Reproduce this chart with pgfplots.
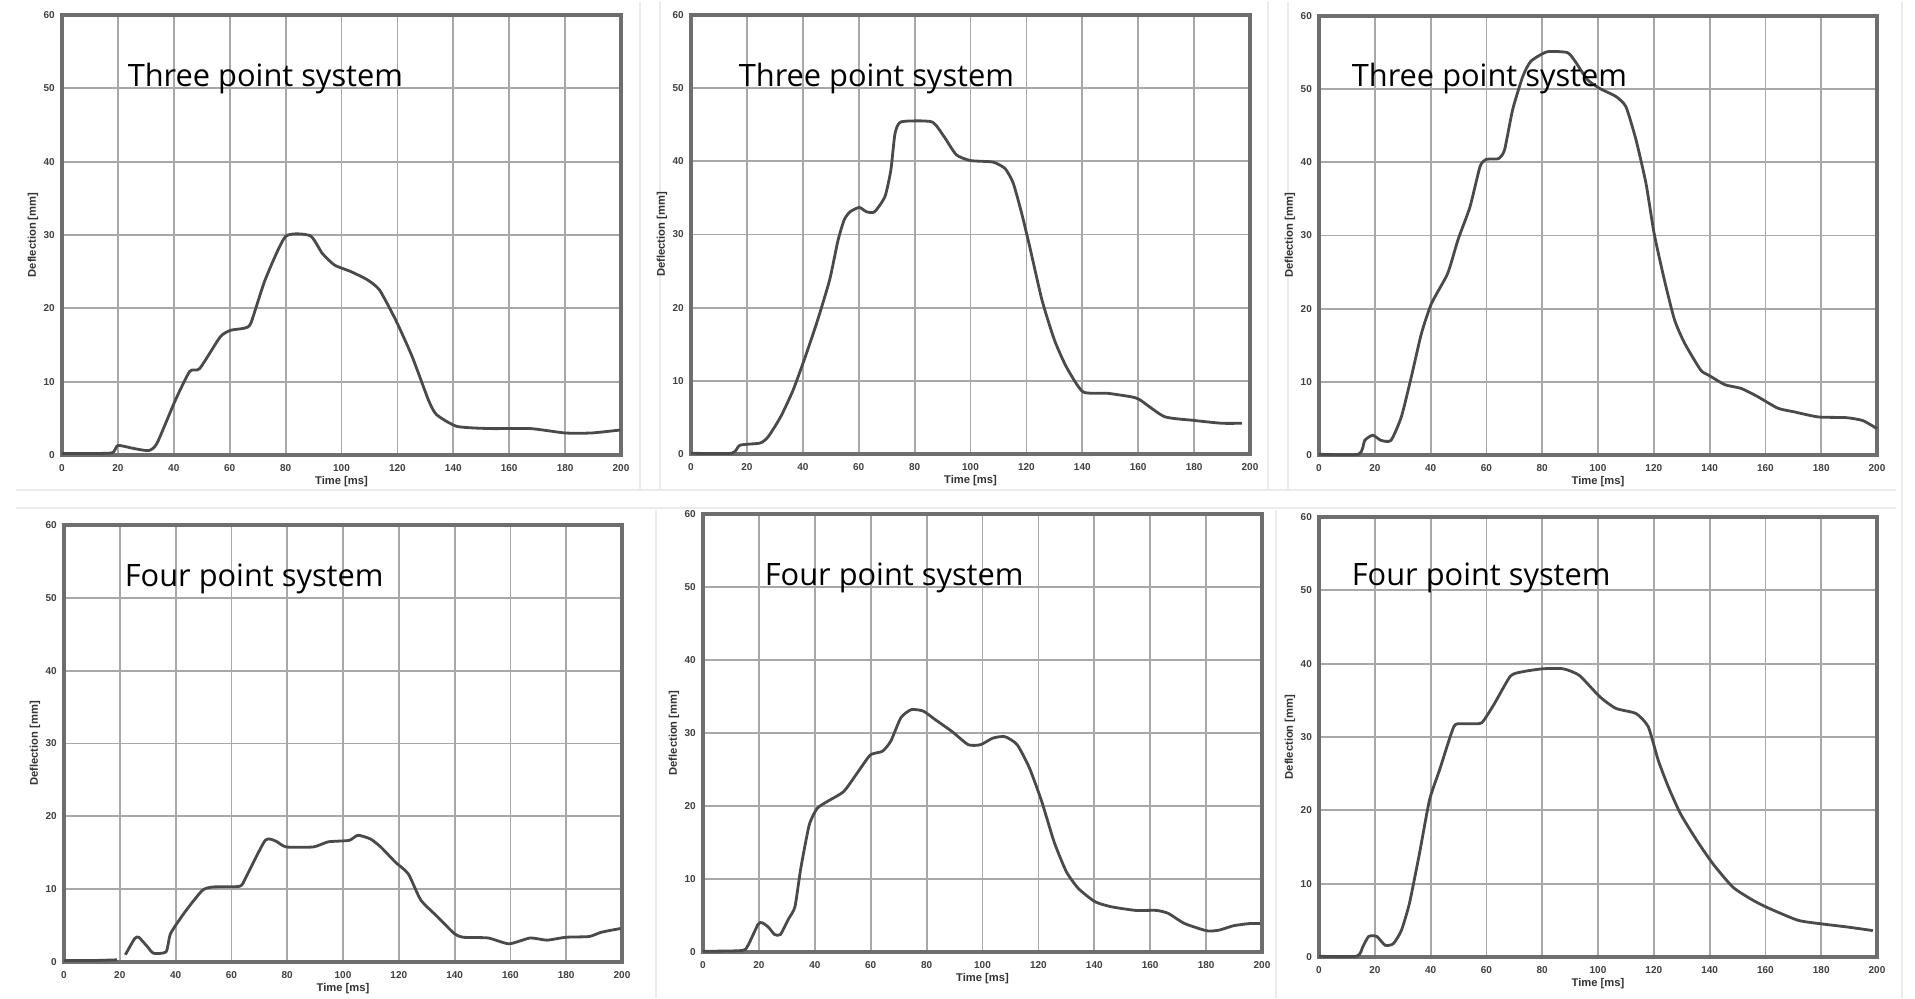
\documentclass[border=0pt]{standalone}
\usepackage{pgfplots}
\pgfplotsset{compat=1.18}
\usepackage{fontspec}
\setmainfont{Liberation Sans}
\newfontfamily\notefont{Open Sans}
\definecolor{framec}{HTML}{6E6E6E}
\definecolor{gridc}{HTML}{A8A8A8}
\definecolor{curvec}{HTML}{4A4A4A}
\pgfplotsset{
  defl/.style={
    scale only axis,
    xmin=0, xmax=200, ymin=0, ymax=60,
    xtick={0,20,...,200}, ytick={0,10,...,60},
    grid=major,
    major grid style={color=gridc, line width=0.45pt},
    axis line style={line width=0.95pt, color=framec},
    major tick length=0pt,
    /pgf/number format/assume math mode=true,
    ticklabel style={font=\fontsize{2.5}{3}\selectfont\bfseries, text=black!75},
    xticklabel style={anchor=north, inner sep=0pt, yshift=-2.1pt},
    yticklabel style={anchor=east, inner sep=0pt, xshift=-1.6pt},
    xlabel={Time [ms]}, ylabel={Deflection [mm]},
    label style={font=\fontsize{2.8}{3.2}\selectfont\bfseries, text=black!80},
    xlabel style={at={(axis description cs:0.5,-0.061)}, anchor=center},
    ylabel style={at={(axis description cs:-0.052,0.5)}, anchor=center},
    clip=false,
  },
  curve/.style={color=curvec, line width=0.7pt, smooth, tension=0.35, no marks},
}
\begin{document}
\begin{tikzpicture}
\useasboundingbox (0,0) rectangle (478.75pt,249.5pt);
\fill[white] (0,0) rectangle (478.75pt,249.5pt);
% faint panel edges
\draw[black!8, line width=0.3pt] (4pt,127pt) -- (474pt,127pt);
\draw[black!8, line width=0.3pt] (4pt,122.5pt) -- (474pt,122.5pt);
\draw[black!8, line width=0.3pt] (160pt,127pt) -- (160pt,249pt);
\draw[black!8, line width=0.3pt] (165pt,127pt) -- (165pt,249pt);
\draw[black!8, line width=0.3pt] (317pt,127pt) -- (317pt,249pt);
\draw[black!8, line width=0.3pt] (322pt,127pt) -- (322pt,249pt);
\draw[black!8, line width=0.3pt] (164pt,0pt) -- (164pt,122pt);
\draw[black!8, line width=0.3pt] (319pt,0pt) -- (319pt,122pt);
\draw[black!8, line width=0.3pt] (475.5pt,0pt) -- (475.5pt,249pt);

% ---------- Plot 1 ----------
\begin{axis}[defl, at={(15.5pt,245.75pt)}, anchor=north west, width=139.75pt, height=110pt]
\addplot[curve] coordinates {
(0,0.2) (10,0.2) (18,0.3) (20,1.3) (25.5,0.9) (31,0.6) (34,1.6) (40.6,7.5) (45.7,11.4) (49.3,11.8)
(56.6,16.1) (60.3,17.0) (65.4,17.3) (67.6,18.0) (72.7,23.9) (80,29.8) (88.8,29.9) (93.1,27.5)
(97.5,25.9) (103.4,25.0) (109.2,23.9) (113.6,22.5) (119.4,18.4) (125.3,13.4) (131.1,7.5)
(134,5.5) (141.3,3.9) (153,3.6) (167.6,3.6) (180,3.0) (189.5,3.0) (199.7,3.4)};
\end{axis}

% ---------- Plot 2 ----------
\begin{axis}[defl, at={(172.75pt,245.75pt)}, anchor=north west, width=139.75pt, height=109.75pt]
\addplot[curve] coordinates {
(0,0.1) (14.6,0.1) (17.5,1.2) (24.8,1.5) (27.7,2.4) (32.1,5.1) (36.5,8.7) (40.9,13.3) (45.3,18.3)
(49.6,23.8) (52.6,29.2) (54.8,32.0) (56.9,33.1) (60.2,33.7) (62.8,33.1) (65.7,33.1) (69.4,35.2)
(71.5,38.8) (73,43.8) (75.2,45.4) (86.1,45.4) (90.5,43.4) (94.9,40.9) (100,40.1) (108,39.9)
(112.4,39.0) (115.3,37.0) (118.3,32.9) (121.2,28.3) (125.6,21.0) (130,15.6) (134.3,11.9)
(140.2,8.5) (148.9,8.3) (157.7,7.8) (160.6,7.4) (169.4,5.1) (179.6,4.6) (189.8,4.2) (197.1,4.2)};
\end{axis}

% ---------- Plot 3 ----------
\begin{axis}[defl, at={(329.75pt,245.5pt)}, anchor=north west, width=139.5pt, height=109.75pt]
\addplot[curve] coordinates {
(0,0.1) (14.2,0.1) (16.4,2.0) (19.3,2.7) (22.2,2.0) (25.8,2.0) (29.5,5.2) (33.1,10.7) (36.7,16.6)
(40.3,20.7) (46.1,24.8) (49.8,29.4) (54.1,33.9) (57.7,39.4) (59.9,40.4) (64.3,40.5) (66.5,41.7)
(69.4,47.2) (73,51.7) (75.9,53.8) (81.7,55.1) (89,55.0) (91.8,53.8) (96.2,51.3) (100.6,50.1)
(106.4,49.0) (110,47.6) (113.6,43.1) (117.2,37.1) (120.1,30.3) (123.8,23.9) (127.4,18.5)
(131,15.3) (136.8,11.6) (139.7,10.9) (145.5,9.6) (151.3,9.1) (157.1,8.0) (164.4,6.4)
(170.2,5.9) (178.9,5.2) (189,5.1) (194.9,4.7) (200,3.6)};
\end{axis}

% ---------- Plot 4 ----------
\begin{axis}[defl, at={(16pt,118.25pt)}, anchor=north west, width=139.5pt, height=109.25pt]
\addplot[curve] coordinates {(0,0.2) (10,0.2) (19,0.3)};
\addplot[curve] coordinates {
(22,1.0) (25.3,3.2) (26.8,3.4) (29.9,2.1) (32.1,1.2) (36.6,1.4) (38.2,3.9) (43.4,6.9) (49.5,9.8)
(53.2,10.3) (63,10.4) (65.3,11.7) (72.1,16.7) (75.9,16.6) (79.6,15.8) (89.4,15.8) (94.7,16.5)
(102.2,16.7) (105.3,17.4) (109.8,16.9) (113.5,15.8) (118.8,13.7) (123.4,12.1) (127.9,8.5)
(133.9,6.2) (139.9,3.9) (143,3.4) (152,3.3) (159.5,2.5) (167.1,3.3) (173.1,3.0) (179.9,3.4)
(188.2,3.5) (192.7,4.1) (199.5,4.6)};
\end{axis}

% ---------- Plot 5 ----------
\begin{axis}[defl, at={(175.75pt,121pt)}, anchor=north west, width=139.75pt, height=109.5pt]
\addplot[curve] coordinates {
(0,0.1) (13.9,0.2) (16.1,0.9) (19.7,3.8) (21.2,4.0) (23.4,3.4) (25.6,2.4) (27.7,2.4) (30.7,4.6)
(32.9,6.2) (35,11.5) (38,17.4) (40.9,19.7) (45.3,20.8) (50.4,22.0) (55.5,24.7) (59.9,27.0)
(64.2,27.5) (67.2,28.9) (70.8,32.1) (74.5,33.2) (78.8,33.0) (83.2,31.8) (89.1,30.2) (94.9,28.4)
(99.3,28.4) (103.7,29.3) (108,29.5) (112.4,28.4) (116.8,25.2) (121.2,20.6) (125.6,15.1)
(130,11.0) (134.3,8.7) (140.2,6.9) (146,6.2) (154.8,5.7) (162.1,5.7) (166.4,5.3) (172.3,3.9)
(180.3,2.9) (184.7,3.0) (189.8,3.6) (195.6,3.9) (199.3,3.9)};
\end{axis}

% ---------- Plot 6 ----------
\begin{axis}[defl, at={(329.75pt,120.25pt)}, anchor=north west, width=139.5pt, height=110pt]
\addplot[curve] coordinates {
(0,0.1) (13.5,0.1) (15.7,1.4) (17.8,2.8) (20.7,2.8) (23.7,1.6) (26.6,1.8) (29.5,3.6) (32.4,7.3)
(36,14.1) (39.6,21.4) (43.2,25.5) (48.3,31.4) (51.2,31.8) (55.6,31.8) (58.5,32.0) (62.8,34.5)
(68.6,38.3) (73,38.9) (80.2,39.3) (87.5,39.3) (93.3,38.4) (100.6,35.5) (106.4,33.9) (113.6,33.2)
(118,31.4) (121.6,26.8) (125.2,23.2) (129.6,19.5) (135.4,15.9) (141.2,12.7) (148.4,9.5)
(155.7,7.7) (161.5,6.6) (171.7,5.0) (180.4,4.5) (189.1,4.1) (198.5,3.6)};
\end{axis}

% ---------- annotations ----------
\node[anchor=base west, inner sep=0pt, font=\notefont\fontsize{7.7}{9}\selectfont] at (31.75pt,227.75pt) {Three point system};
\node[anchor=base west, inner sep=0pt, font=\notefont\fontsize{7.7}{9}\selectfont] at (184.5pt,227.75pt) {Three point system};
\node[anchor=base west, inner sep=0pt, font=\notefont\fontsize{7.7}{9}\selectfont] at (337.75pt,227.75pt) {Three point system};
\node[anchor=base west, inner sep=0pt, font=\notefont\fontsize{7.7}{9}\selectfont] at (31pt,103pt) {Four point system};
\node[anchor=base west, inner sep=0pt, font=\notefont\fontsize{7.7}{9}\selectfont] at (191pt,103.25pt) {Four point system};
\node[anchor=base west, inner sep=0pt, font=\notefont\fontsize{7.7}{9}\selectfont] at (337.75pt,103.25pt) {Four point system};
\end{tikzpicture}
\end{document}
